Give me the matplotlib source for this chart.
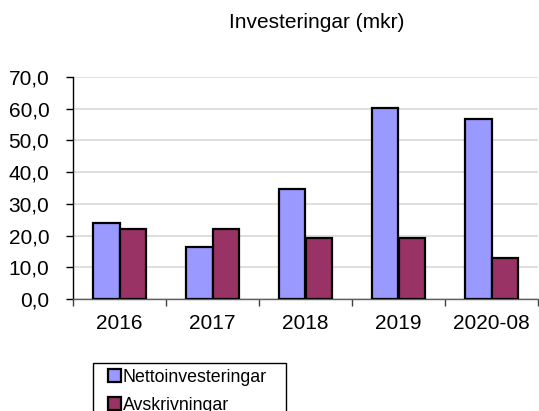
import matplotlib
matplotlib.use("Agg")
import matplotlib.pyplot as plt
from matplotlib.patches import Rectangle
import numpy as np

plt.rcParams['font.family'] = ['Liberation Sans', 'DejaVu Sans']

categories = ["2016", "2017", "2018", "2019", "2020-08"]
netto = [24.0, 16.3, 34.7, 60.2, 56.8]
avskr = [22.0, 22.0, 19.3, 19.1, 13.0]
yticks = [0, 10, 20, 30, 40, 50, 60, 70]

W, H = 539, 411
fig = plt.figure(figsize=(W / 100, H / 100), dpi=100)
ax = fig.add_axes([73 / W, 1 - 299 / H, (538 - 73) / W, (299 - 77) / H])

x = np.arange(len(categories))
bw = 0.287
ax.bar(x - bw / 2, netto, bw, color="#9999FF", edgecolor="black", linewidth=1.6,
       label="Nettoinvesteringar", zorder=3)
ax.bar(x + bw / 2, avskr, bw, color="#993366", edgecolor="black", linewidth=1.6,
       label="Avskrivningar", zorder=3)

ax.set_xlim(-0.5, len(categories) - 0.5)
ax.set_ylim(0, 70)
ax.set_yticks(yticks)
ax.set_yticklabels([f"{v:.1f}".replace(".", ",") for v in yticks], fontsize=15)
ax.yaxis.grid(True, color="#d9d9d9", linewidth=1.2, zorder=0)
ax.set_axisbelow(True)

ax.set_xticks(x)
ax.set_xticklabels(categories, fontsize=15)
ax.set_xticks(np.arange(-0.5, len(categories) + 0.5, 1), minor=True)
ax.tick_params(axis="x", which="major", length=0, pad=11)
ax.tick_params(axis="x", which="minor", length=5, width=1, color="#404040", direction="out")
ax.tick_params(axis="y", length=5, width=1, color="black", direction="out", pad=12)

for s in ["top", "right"]:
    ax.spines[s].set_visible(False)
ax.spines["left"].set_color("black")
ax.spines["left"].set_linewidth(1.0)
ax.spines["bottom"].set_color("#606060")
ax.spines["bottom"].set_linewidth(1.0)

fig.text(317 / W, 1 - 23 / H, "Investeringar (mkr)", fontsize=15, ha="center", va="center")

# legend frame drawn manually (wider horizontal padding than vertical)
fig.patches.append(Rectangle((92.7 / W, 1 - 430 / H), (286 - 92.7) / W, (430 - 362.7) / H,
                             transform=fig.transFigure, fill=False, edgecolor="black",
                             linewidth=1.0))
leg = fig.legend(loc="upper left", bbox_to_anchor=(108 / W, 1 - 369 / H),
                 fontsize=12.8, frameon=False,
                 handlelength=0.72, handleheight=0.72, handletextpad=0.12,
                 borderpad=0.0, labelspacing=0.62, borderaxespad=0)

fig.savefig("out.png", dpi=100)
